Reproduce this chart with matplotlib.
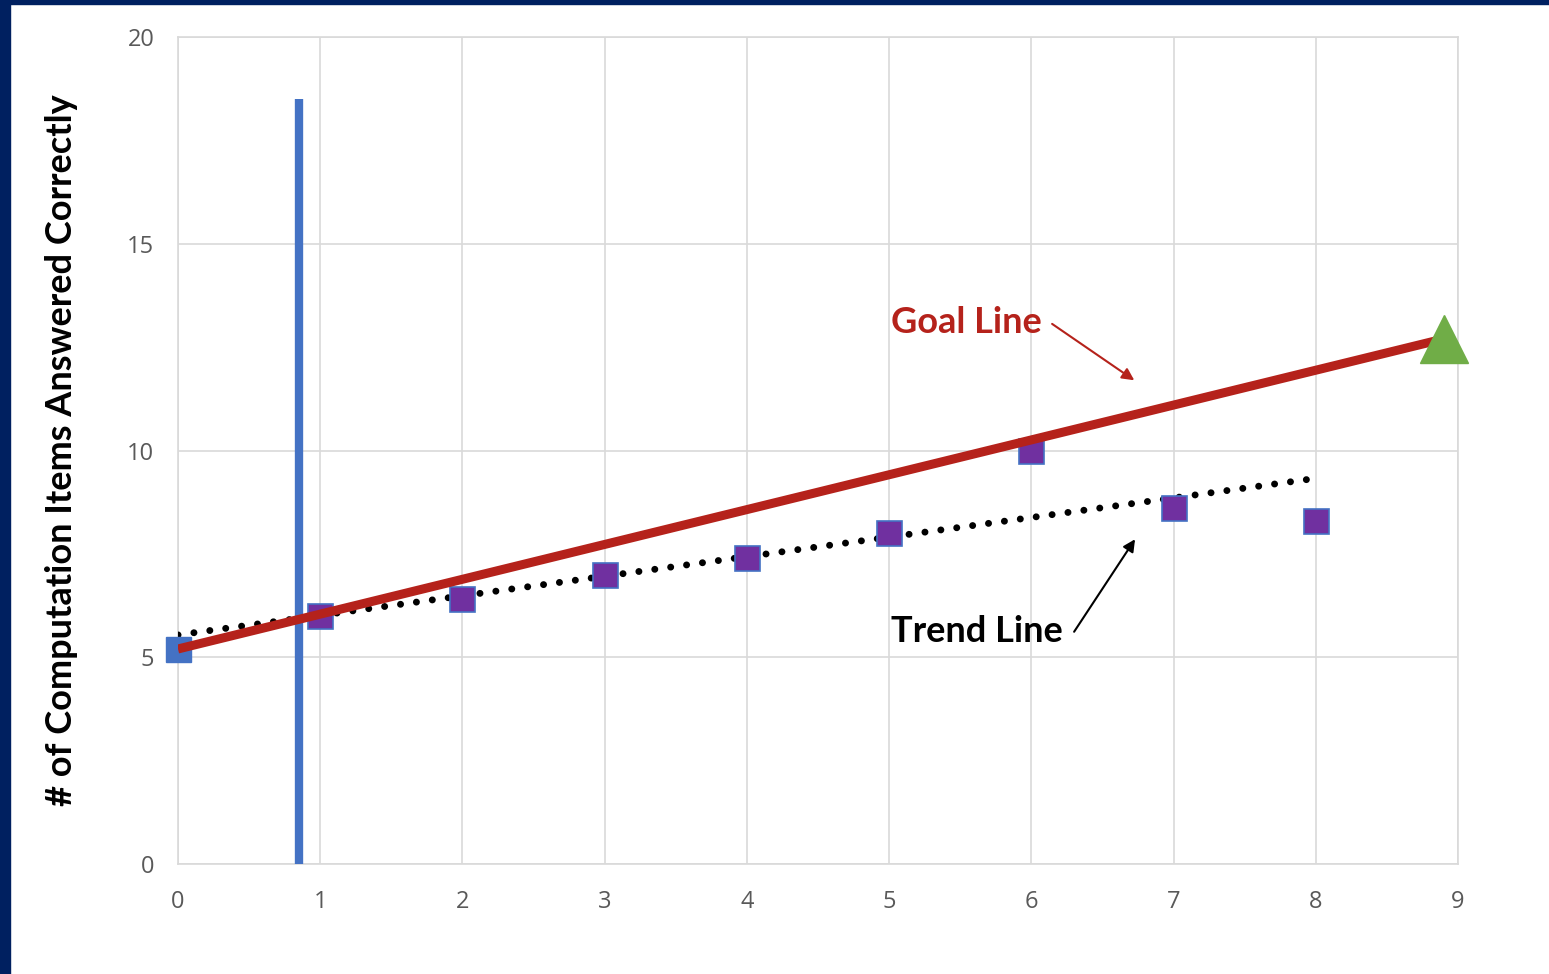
import numpy as np
import matplotlib
matplotlib.use("Agg")
import matplotlib.pyplot as plt
from matplotlib.patches import Rectangle

# sessions and items answered correctly
sessions = [0, 1, 2, 3, 4, 5, 6, 7, 8]
scores = [5.2, 6.0, 6.4, 7.0, 7.4, 8.0, 10.0, 8.6, 8.3]

# goal line: baseline to the end-of-year target
goal_x = [0, 8.9]
goal_y = [5.2, 12.7]

# phase change line after baseline
phase_x = 0.85
phase_top = 18.5

x_ticks = [0, 1, 2, 3, 4, 5, 6, 7, 8, 9]
y_ticks = [0, 5, 10, 15, 20]

fig = plt.figure(figsize=(15.49, 9.74), dpi=100)
fig.patch.set_facecolor("white")
# dark frame strips at top and left
fig.patches.append(Rectangle((0, 1 - 4 / 974), 1, 4 / 974, transform=fig.transFigure,
                             color="#002060", zorder=0))
fig.patches.append(Rectangle((0, 0), 10 / 1549, 1, transform=fig.transFigure,
                             color="#002060", zorder=0))

ax = fig.add_axes([178 / 1549, 1 - 864 / 974, (1458 - 178) / 1549, (864 - 37) / 974])
ax.set_xlim(0, 9)
ax.set_ylim(0, 20)
ax.set_xticks(x_ticks)
ax.set_yticks(y_ticks)
ax.grid(True, color="#D9D9D9", lw=1.2)
ax.set_axisbelow(True)
for s in ax.spines.values():
    s.set_color("#D9D9D9")
    s.set_linewidth(1.2)
ax.tick_params(length=0, labelsize=17, labelcolor="#595959")
ax.tick_params(axis="x", pad=19)
ax.tick_params(axis="y", pad=17)
for lab in ax.get_xticklabels() + ax.get_yticklabels():
    lab.set_family("Open Sans")

# baseline phase divider
ax.plot([phase_x, phase_x], [0, phase_top], color="#4472C4", lw=6, solid_capstyle="butt", zorder=3)

# trend line from least squares over all sessions
coef = np.polyfit(sessions, scores, 1)
tx = np.array([sessions[0], sessions[-1]])
ax.plot(tx, np.polyval(coef, tx), color="black", lw=5, linestyle=(0, (0.01, 2.3)),
        dash_capstyle="round", zorder=4)

# data points: baseline in blue, intervention in purple
ax.plot(sessions[:1], scores[:1], "s", ms=18, color="#4472C4", mec="#4472C4",
        zorder=5, clip_on=False)
ax.plot(sessions[1:], scores[1:], "s", ms=18, color="#7030A0", mec="#4472C4", mew=1.2,
        zorder=5, clip_on=False)

# goal line with target marker
ax.plot(goal_x, goal_y, color="#B5221B", lw=6.5, solid_capstyle="butt", zorder=6)
ax.plot(goal_x[-1:], goal_y[-1:], "^", ms=34, color="#70AD47", zorder=7, clip_on=False)

ax.text(5.01, 13.1, "Goal Line", color="#B5221B", fontsize=26, fontweight="bold",
        family="Lato", va="center", ha="left")
ax.annotate("", xy=(6.74, 11.66), xytext=(6.13, 13.1),
            arrowprops=dict(arrowstyle="-|>", color="#B5221B", lw=1.5, mutation_scale=18))
ax.text(5.01, 5.63, "Trend Line", color="black", fontsize=26, fontweight="bold",
        family="Lato", va="center", ha="left")
ax.annotate("", xy=(6.74, 7.91), xytext=(6.29, 5.56),
            arrowprops=dict(arrowstyle="-|>", color="black", lw=1.5, mutation_scale=18))

fig.text(62 / 1549, 1 - 450 / 974, "# of Computation Items Answered Correctly", rotation=90,
         fontsize=26, fontweight="bold", family="Lato", ha="center", va="center")

fig.savefig("out.png", dpi=100)
